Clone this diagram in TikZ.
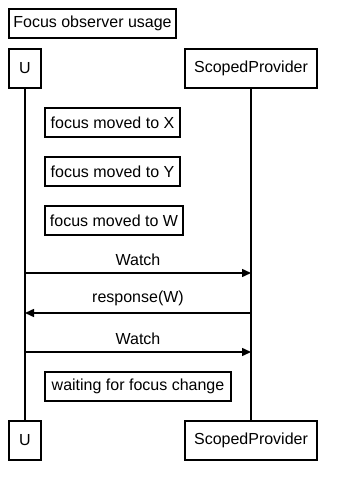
\documentclass[tikz,border=0pt]{standalone}
\usepackage{fontspec}
\setmainfont{Liberation Sans}
\usetikzlibrary{arrows.meta}
\begin{document}
\begin{tikzpicture}[x=1pt,y=-1pt, every node/.style={font=\fontsize{16}{19}\selectfont},
  actor/.style={draw,line width=1.5pt,minimum height=39pt,inner sep=0pt},
  note/.style={draw,line width=1.5pt,minimum height=29pt,inner sep=0pt},
  msg/.style={line width=1.5pt,-{Triangle[length=9pt,width=8pt]}},
  life/.style={line width=1.5pt}]
\useasboundingbox (0,0) rectangle (347,480);
% title
\node[note,minimum width=167pt] (title) at (92.5,23.5) {Focus observer usage};
% actors
\node[actor,minimum width=32pt] (utop) at (25,68.5) {U};
\node[actor,minimum width=132pt] (sptop) at (251,68.5) {ScopedProvider};
\node[actor,minimum width=32pt] (ubot) at (25,440.5) {U};
\node[actor,minimum width=132pt] (spbot) at (251,440.5) {ScopedProvider};
\draw[life] (utop.south) -- (ubot.north);
\draw[life] (sptop.south) -- (spbot.north);
% notes
\node[note,minimum width=135pt] (nx) at (112.5,122.5) {focus moved to X};
\node[note,minimum width=135pt] (ny) at (112.5,171.5) {focus moved to Y};
\node[note,minimum width=138pt] (nw) at (114,220.5) {focus moved to W};
\node[note,minimum width=186pt] (wait) at (138,386.5) {waiting for focus change};
% messages
\coordinate (u1) at (25,273);  \coordinate (s1) at (251,273);
\coordinate (u2) at (25,313);  \coordinate (s2) at (251,313);
\coordinate (u3) at (25,352);  \coordinate (s3) at (251,352);
\draw[msg] (u1) -- (s1) node[midway,above=3pt] (m1) {Watch};
\draw[msg] (s2) -- (u2) node[midway,above=3pt] (m2) {response(W)};
\draw[msg] (u3) -- (s3) node[midway,above=3pt] (m3) {Watch};
\end{tikzpicture}
\end{document}
